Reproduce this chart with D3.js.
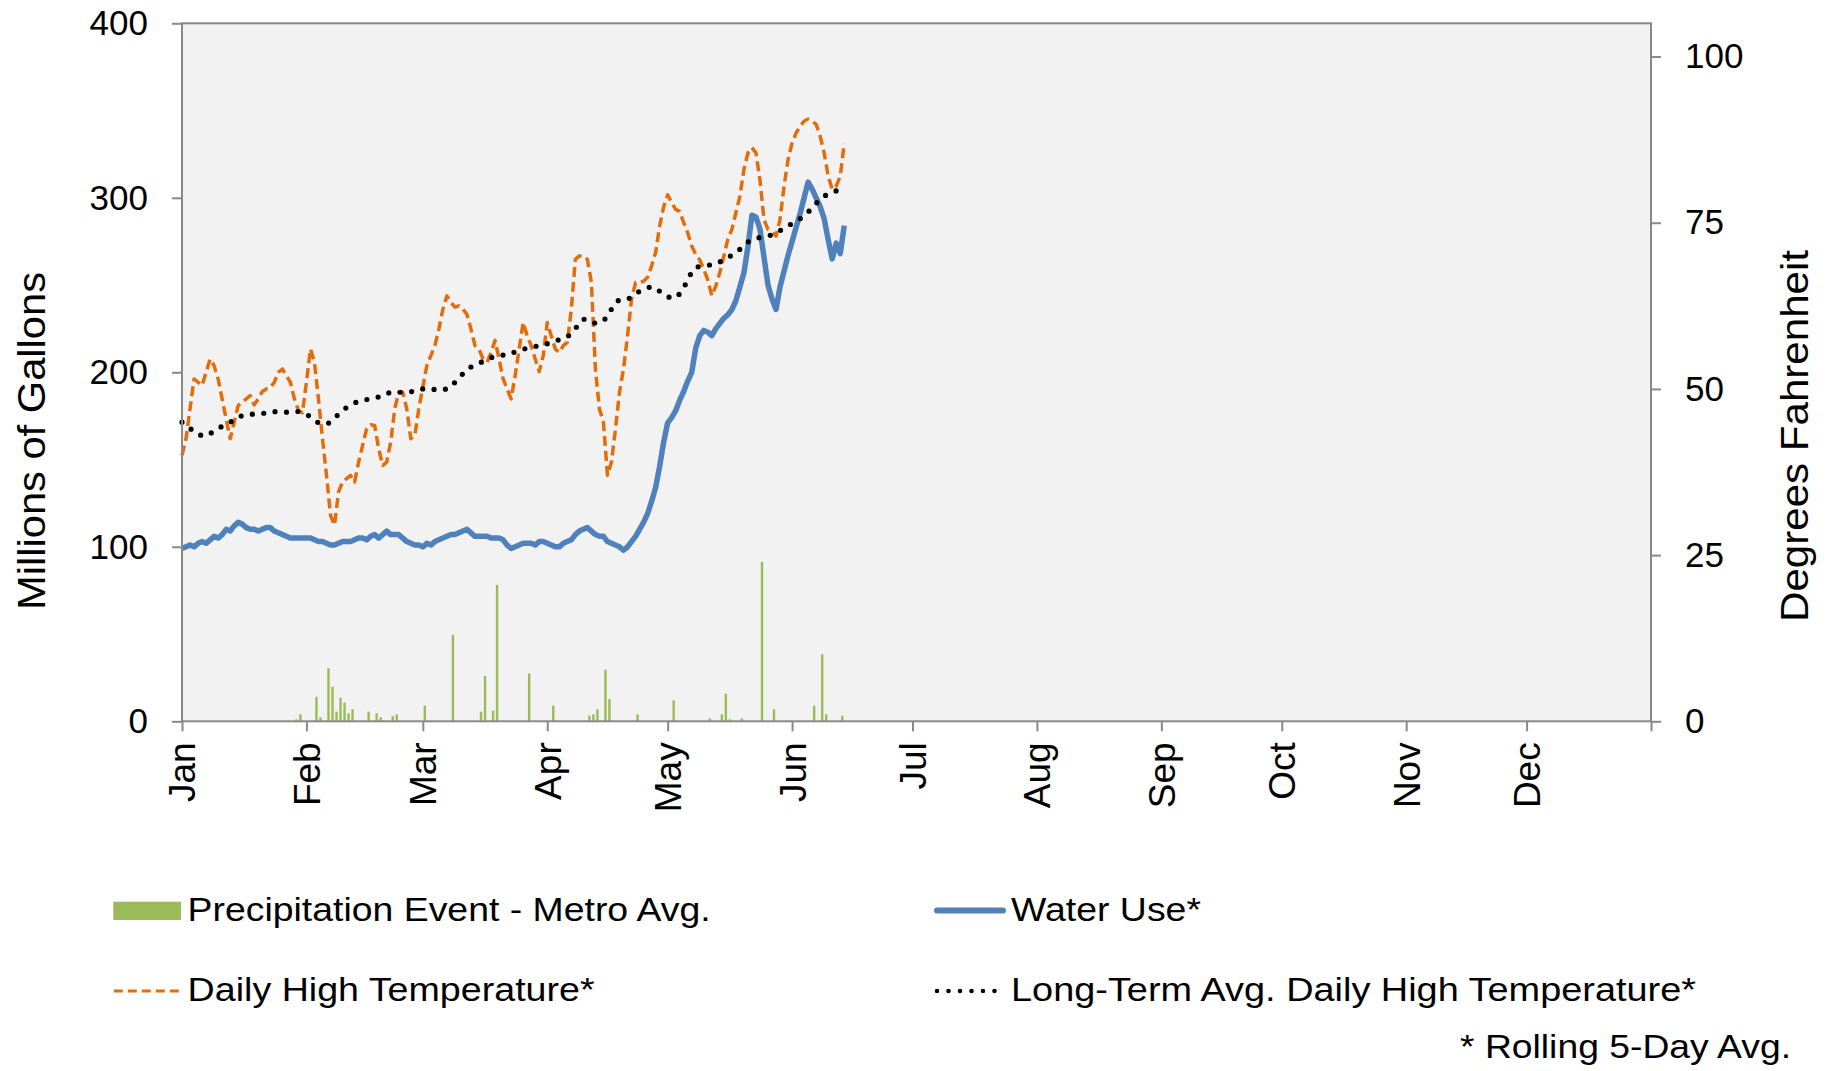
<!DOCTYPE html>
<html><head><meta charset="utf-8">
<script src="https://cdn.jsdelivr.net/npm/d3@7"></script>
<style>
html,body{margin:0;padding:0;background:#fff;}
svg{display:block;font-family:"Liberation Sans",Arial,Helvetica,sans-serif;}
</style></head><body>
<svg id="chart" width="1839" height="1071"></svg>
<script>
// ---- Data (day index 0 = Jan 1, 2016) ----
const waterUse = [
 99,100,101,100,102,103,102,104,106,105,
 107,110,109,112,114,113,111,110,110,109,
 110,111,111,109,108,107,106,105,105,105,
 105,105,105,104,103,103,102,101,101,102,
 103,103,103,104,105,105,104,106,107,105,
 107,109,107,107,107,105,103,102,101,101,
 100,102,101,103,104,105,106,107,107,108,
 109,110,108,106,106,106,106,105,105,105,
 104,101,99,100,101,102,102,102,101,103,
 103,102,101,100,100,102,103,104,107,109,
 110,111,109,107,106,106,103,102,101,100,
 98,100,103,106,110,114,119,126,134,146,
 160,171,174,178,184,189,195,200,214,221,
 224,223,221,225,228,231,233,236,241,249,
 257,272,290,289,282,266,250,242,236,249,
 258,267,275,283,291,300,309,305,300,295,
 288,276,265,274,268,284
];
const dailyHigh = [
 40,42.5,47,51.5,51,50.5,52.5,54.5,53.5,51.5,
 48.5,45.5,42.5,45,47.5,48,48.5,49,47.6,48.5,
 49.6,50,50.2,51,52.5,53,52,51,48.5,46.8,
 46.4,51,56,54,48.5,42.5,37,31,29.5,34.5,
 36,36.5,37,36,39,41.5,44,44.6,44.5,41,
 38.5,39,42,47,49.5,49.5,47,42.5,43,47,
 50.3,53.5,55,56.5,59,62,64,63,62.3,62.5,
 62,61.2,59,56.5,56,54.5,54,55.5,57.3,54.5,
 51.5,50,48.5,52,56,60,58,56.5,54.5,52.6,
 55,60,58,56,55.5,56.5,57,62,69.5,70,
 70,69.5,66,53,47,45,37,39,44,49.5,
 53,58,63.5,66,66,66.2,66.8,68.5,70.5,74.5,
 77.4,79.2,78,77,76.7,75,73.5,71.5,70.2,69.4,
 68,66.4,64,65.5,67.5,70,72.5,74,76.5,79,
 83,85.5,86.3,85.5,81.4,75.5,74,73.6,73,75.5,
 80.5,84.5,87,88.5,89.5,90.3,90.6,90.3,89.8,88,
 85.5,82,80,80.5,82,87
];
const normalHigh = [
 45,44.5,44,43.8,43.3,42.9,43,43.3,43.6,44,
 44.4,44.8,45,45.3,45.7,46,46.2,46.2,46.2,46.2,
 46.3,46.4,46.6,46.6,46.5,46.5,46.5,46.6,46.6,46.6,
 46.5,46.2,45.8,45.3,44.9,44.7,44.7,45,45.6,46.2,
 46.8,47.2,47.6,47.9,48.1,48.3,48.4,48.5,48.6,48.8,
 49,49.3,49.5,49.5,49.5,49.5,49.5,49.6,49.6,49.8,
 50,50.1,50,49.9,49.8,49.9,50,50.3,51,51.6,
 52.3,53,53.3,53.6,53.9,54.1,54.4,54.7,54.9,55,
 55.1,55.1,55.3,55.6,55.8,56,56.1,56.3,56.4,56.5,
 56.6,56.8,57,57.2,57.4,57.6,57.8,58.4,59.1,59.8,
 60.5,60.4,60,59.9,60,60.2,61,62,63,63.4,
 63.5,63.5,63.8,64.3,64.7,65,65.2,65.4,65.1,64.7,
 64.3,63.9,63.6,63.8,64.3,65.2,66.4,67.6,68.3,68.4,
 68.5,68.6,68.7,68.8,69.1,69.4,69.8,70.1,70.5,71,
 71.6,72.1,72.4,72.6,72.8,72.9,73,73.2,73.5,73.8,
 74.2,74.5,74.9,75.3,75.6,76,76.6,77.2,77.9,78.6,
 79,79.3,79.5,79.8,80.1,80.4
];
const precipDays   = [28,29,33,34,36,37,38,39,40,41,42,46,48,49,52,53,60,67,74,75,77,78,86,92,101,102,103,105,106,113,122,131,134,135,136,139,144,147,157,159,160,164];
const precipValues = [1.1,4,14,2.3,30.4,19.8,5.5,13.5,10.7,4.6,6.9,5.5,4.6,2.3,3,4,9,49.5,5.5,26,6.1,78.2,27.5,9,3.2,4,6.9,29.6,12.8,4,12,1.7,4,15.8,1.1,1.7,91.3,6.9,9,38.4,4,3.2];
const monthLabels = ["Jan","Feb","Mar","Apr","May","Jun","Jul","Aug","Sep","Oct","Nov","Dec"];
const leftTicks  = [0,100,200,300,400];
const rightTicks = [0,25,50,75,100];
const legendLabels = ["Precipitation Event - Metro Avg.","Water Use*","Daily High Temperature*","Long-Term Avg. Daily High Temperature*"];
const footnote = "* Rolling 5-Day Avg.";

// ---- Layout ----
const C = {blue:"#4f81bd", orange:"#e46c0a", green:"#9bbb59", black:"#000", axis:"#898989", bg:"#f2f2f2", text:"#000"};
const plot = {left:182, right:1651, top:23.3, bottom:721.3};
const t0 = Date.UTC(2016,0,1);
const dayDate = d => new Date(t0 + d*86400000);

const svg = d3.select("#chart");
const x  = d3.scaleUtc().domain([dayDate(0), dayDate(366)]).range([plot.left, plot.right]);
const yL = d3.scaleLinear().domain([0,400]).range([plot.bottom, plot.top]);
const yR = d3.scaleLinear().domain([0,105]).range([plot.bottom, plot.top]);

// plot background
svg.append("rect").attr("x",plot.left).attr("y",plot.top)
  .attr("width",plot.right-plot.left).attr("height",plot.bottom-plot.top)
  .attr("fill",C.bg);

// precipitation bars (centred in their day slot)
const halfDay = (x(dayDate(1))-x(dayDate(0)))/2;
svg.append("g").selectAll("rect").data(precipDays.map((d,i)=>({d, v:precipValues[i]})))
  .join("rect")
  .attr("x", p => x(dayDate(p.d)) + halfDay - 1.2)
  .attr("width", 2.4)
  .attr("y", p => yL(p.v))
  .attr("height", p => yL(0)-yL(p.v))
  .attr("fill", C.green);

// lines
const lineL = d3.line().x((v,i)=>x(dayDate(i))).y(v=>yL(v));
const lineR = d3.line().x((v,i)=>x(dayDate(i))).y(v=>yR(v));
svg.append("path").attr("d", lineL(waterUse)).attr("fill","none")
  .attr("stroke",C.blue).attr("stroke-width",5.5).attr("stroke-linejoin","round");
svg.append("path").attr("d", lineR(dailyHigh)).attr("fill","none")
  .attr("stroke",C.orange).attr("stroke-width",3.5).attr("stroke-dasharray","10 5").attr("stroke-linejoin","round");
svg.append("path").attr("d", lineR(normalHigh)).attr("fill","none")
  .attr("stroke",C.black).attr("stroke-width",5.2).attr("stroke-dasharray","0 11.5").attr("stroke-linecap","round");

// plot border
svg.append("rect").attr("x",plot.left).attr("y",plot.top)
  .attr("width",plot.right-plot.left).attr("height",plot.bottom-plot.top)
  .attr("fill","none").attr("stroke",C.axis).attr("stroke-width",2);

function styleAxis(g){
  g.select(".domain").remove();
  g.selectAll(".tick line").attr("stroke",C.axis).attr("stroke-width",2);
  g.selectAll(".tick text").attr("fill",C.text).attr("font-size",35)
   .attr("font-family",'"Liberation Sans",Arial,sans-serif');
}
// left axis
svg.append("g").attr("transform",`translate(${plot.left},0)`)
  .call(d3.axisLeft(yL).tickValues(leftTicks).tickSize(10).tickPadding(24))
  .call(styleAxis);
// right axis
svg.append("g").attr("transform",`translate(${plot.right},0)`)
  .call(d3.axisRight(yR).tickValues(rightTicks).tickSize(10).tickPadding(24))
  .call(styleAxis);
// bottom axis
const monthStarts = d3.utcMonth.range(dayDate(0), dayDate(367));
svg.append("g").attr("transform",`translate(0,${plot.bottom})`)
  .call(d3.axisBottom(x).tickValues(monthStarts).tickSize(10)
        .tickFormat((d,i)=> monthLabels[i] || ""))
  .call(styleAxis)
  .call(g => g.selectAll(".tick text")
      .attr("font-size",37)
      .attr("transform","rotate(-90)").attr("text-anchor","end")
      .attr("x",-21).attr("y",0).attr("dy","0.35em"));

// axis titles
svg.append("text").attr("transform","translate(31.7,441) rotate(-90)")
  .attr("text-anchor","middle").attr("dy","0.35em").attr("font-size",39)
  .attr("textLength",338).attr("lengthAdjust","spacingAndGlyphs")
  .text("Millions of Gallons");
svg.append("text").attr("transform","translate(1794,436) rotate(-90)")
  .attr("text-anchor","middle").attr("dy","0.35em").attr("font-size",39)
  .attr("textLength",372).attr("lengthAdjust","spacingAndGlyphs")
  .text("Degrees Fahrenheit");

// legend
const lg = svg.append("g");
lg.append("rect").attr("x",113.3).attr("y",901.7).attr("width",67.7).attr("height",18.3).attr("fill",C.green);
lg.append("line").attr("x1",937).attr("x2",1003).attr("y1",910.5).attr("y2",910.5)
  .attr("stroke",C.blue).attr("stroke-width",6).attr("stroke-linecap","round");
lg.append("line").attr("x1",113.8).attr("x2",181.8).attr("y1",991).attr("y2",991)
  .attr("stroke",C.orange).attr("stroke-width",3).attr("stroke-dasharray","9 5");
lg.append("line").attr("x1",937).attr("x2",1005).attr("y1",991).attr("y2",991)
  .attr("stroke",C.black).attr("stroke-width",4.6).attr("stroke-dasharray","0 11.5").attr("stroke-linecap","round");
const legText = [
  {t:legendLabels[0], x:187.6, y:920.7, w:523},
  {t:legendLabels[1], x:1011, y:920.7, w:190},
  {t:legendLabels[2], x:187.6, y:1001, w:407},
  {t:legendLabels[3], x:1011, y:1001, w:685},
  {t:footnote, x:1460, y:1058, w:331}
];
lg.selectAll("text").data(legText).join("text")
  .attr("x",d=>d.x).attr("y",d=>d.y).attr("font-size",34)
  .attr("textLength",d=>d.w).attr("lengthAdjust","spacingAndGlyphs")
  .attr("fill",C.text).text(d=>d.t);
</script>
</body></html>
